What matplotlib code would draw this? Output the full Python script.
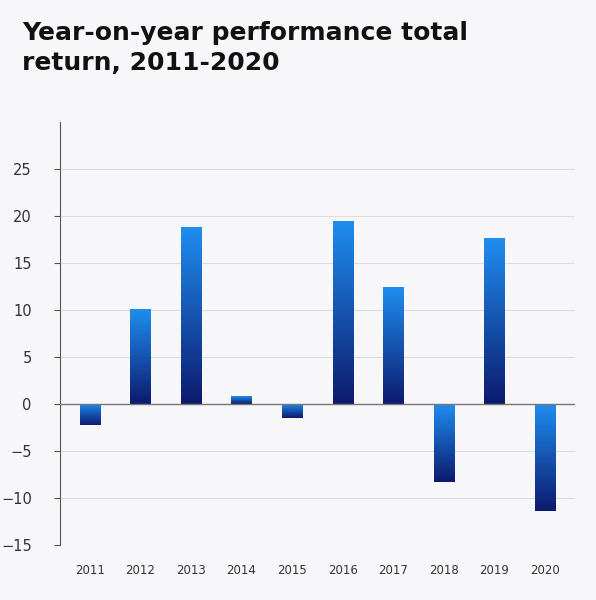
import matplotlib
matplotlib.use("Agg")
import matplotlib.pyplot as plt
import numpy as np
from matplotlib.colors import LinearSegmentedColormap

years = ["2011","2012","2013","2014","2015","2016","2017","2018","2019","2020"]
returns = [-2.3, 10.1, 18.8, 0.8, -1.5, 19.5, 12.4, -8.3, 17.6, -11.4]

fig = plt.figure(figsize=(5.96, 6.0), dpi=100, facecolor="#f7f7f9")
ax = fig.add_axes([0.1, 0.092, 0.865, 0.705], facecolor="#f7f7f9")
x = np.arange(len(years))
bars = ax.bar(x, returns, width=0.4, color="none", zorder=3)
cmap = LinearSegmentedColormap.from_list("g", ["#0d1a6e", "#1f8ef0"])
grad = np.linspace(0, 1, 256).reshape(-1, 1)
for b in bars:
    x0, y0 = b.get_x(), b.get_y()
    w, h = b.get_width(), b.get_height()
    lo, hi = min(y0, y0 + h), max(y0, y0 + h)
    im = ax.imshow(grad, extent=[x0, x0 + w, lo, hi], origin="lower", cmap=cmap,
                   aspect="auto", zorder=3)
    im.set_clip_path(b)
ax.set_xlim(-0.6, len(years) - 0.4)
ax.set_ylim(-15, 30)
ax.set_yticks([-15, -10, -5, 0, 5, 10, 15, 20, 25])
ax.set_xticks(x)
ax.set_xticklabels(years)
ax.grid(axis="y", color="#dddddd", linewidth=0.8, zorder=0)
ax.axhline(0, color="#777777", linewidth=1, zorder=4)
for s in ["top", "right", "bottom"]:
    ax.spines[s].set_visible(False)
ax.spines["left"].set_color("#555555")
ax.tick_params(axis="y", length=4, color="#555555", labelsize=10.5, labelcolor="#333333", pad=16)
ax.tick_params(axis="x", length=0, labelsize=8.5, labelcolor="#333333", pad=14)
fig.text(0.037, 0.965, "Year-on-year performance total\nreturn, 2011-2020", fontsize=18,
         fontweight="bold", va="top", ha="left", color="#111111", linespacing=1.3)
fig.savefig("out.png", dpi=100, facecolor=fig.get_facecolor())
